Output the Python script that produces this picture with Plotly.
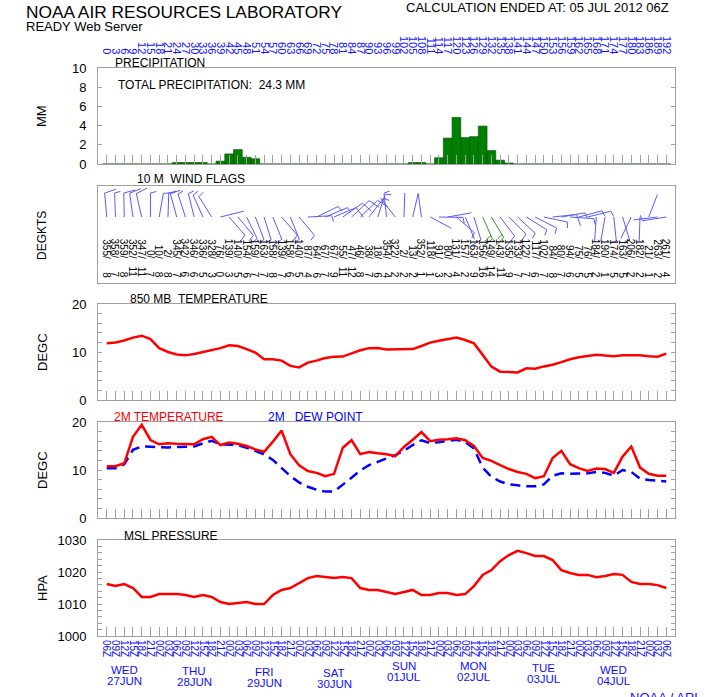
import math
import plotly.graph_objects as go

OFF = 0
FW, FH = 708, 697
FONT = "Liberation Sans, Arial, Helvetica, sans-serif"
FRAME = "#a0a0a0"
BLUE = "#1010ff"

# ---------------- data ----------------
hours = list(range(0, 193, 3))
utc_labels = ["%02dZ" % ((6 + h) % 24) for h in hours]
hour_labels = [str(h) for h in hours]

precip_mm = [0, 0, 0, 0, 0, 0, 0, 0,
             0.15, 0.15, 0.15, 0.15, 0, 0.3, 1.05, 1.5, 0.7, 0.55,
             0, 0, 0, 0, 0, 0, 0, 0, 0, 0, 0, 0, 0, 0, 0, 0, 0,
             0.15, 0.15, 0, 0.65, 2.7, 4.85, 2.75, 2.85, 3.95, 1.4, 0.4, 0.1,
             0, 0, 0, 0, 0, 0, 0, 0, 0, 0, 0, 0, 0, 0, 0, 0, 0, 0]
total_precip = "24.3"

t850 = [11.8, 12.0, 12.4, 13.0, 13.4, 12.7, 10.8, 10.0, 9.5, 9.3,
        9.6, 10.0, 10.5, 10.8, 11.4, 11.25, 10.6, 9.9, 8.5, 8.5,
        8.2, 7.1, 6.8, 7.8, 8.2, 8.75, 9.0, 9.05, 9.7, 10.35,
        10.8, 10.85, 10.5, 10.5, 10.5, 10.6, 11.25, 11.95, 12.35, 12.7,
        13.0, 12.5, 11.8, 9.4, 6.95, 5.9, 5.8, 5.75, 6.6, 6.5,
        7.0, 7.35, 7.9, 8.5, 8.9, 9.1, 9.45, 9.25, 9.1, 9.3,
        9.3, 9.3, 9.1, 9.0, 9.65]

t2m = [10.8, 10.8, 11.4, 16.9, 19.4, 16.25, 15.35, 15.55, 15.45, 15.35,
       15.35, 16.4, 16.9, 15.2, 15.7, 15.45, 15.0, 14.3, 13.8, 15.9,
       18.2, 13.3, 11.0, 9.8, 9.4, 8.7, 9.2, 14.65, 16.2, 13.3,
       13.75, 13.5, 13.3, 12.9, 14.8, 16.3, 17.9, 16.0, 16.3, 16.4,
       16.6, 16.2, 15.0, 12.5, 11.9, 11.0, 10.2, 9.6, 9.2, 8.3,
       8.7, 12.5, 14.0, 11.2, 10.4, 9.8, 10.3, 10.2, 9.4, 12.8,
       14.9, 10.5, 9.2, 8.8, 8.8]

dew2m = [10.35, 10.35, 11.2, 14.2, 14.9, 14.8, 14.65, 14.7, 14.8, 14.85,
         14.9, 15.55, 16.1, 15.35, 15.35, 15.2, 14.65, 13.95, 13.25, 12.1,
         10.35, 8.75, 7.4, 6.5, 5.9, 5.5, 5.5, 6.9, 8.4, 9.9,
         11.0, 11.7, 12.4, 13.1, 14.0, 15.2, 16.2, 15.6, 15.8, 16.0,
         16.3, 15.8, 14.5, 10.5, 8.6, 7.6, 7.0, 6.8, 6.6, 6.6,
         7.0, 8.8, 9.3, 9.2, 9.2, 9.3, 9.6, 9.4, 8.8, 10.0,
         9.6, 8.2, 7.9, 7.7, 7.6]

mslp = [1016.25, 1015.6, 1016.25, 1015.0, 1012.2, 1012.2, 1013.1, 1013.1, 1013.1, 1012.8,
        1012.2, 1012.8, 1012.2, 1010.6, 1010.0, 1010.3, 1010.6, 1010.0, 1010.0, 1012.8,
        1014.4, 1015.0, 1016.6, 1018.1, 1018.75, 1018.4, 1018.1, 1018.4, 1018.1, 1015.0,
        1014.4, 1014.4, 1013.75, 1013.1, 1013.75, 1014.4, 1012.8, 1012.8, 1013.4, 1013.4,
        1012.8, 1013.1, 1015.6, 1019.1, 1020.6, 1023.4, 1025.3, 1026.6, 1025.9, 1025.0,
        1025.0, 1023.75, 1020.6, 1019.7, 1019.1, 1019.1, 1018.4, 1018.75, 1019.4, 1019.1,
        1016.9, 1016.25, 1016.25, 1015.9, 1015.0]

wind_dir = [355, 358, 359, 352, 347, 0, 10, 2, 345, 342, 346, 336, 328, 76, 139, 140, 154,
            159, 163, 158, 139, 158, 140, 87, 64, 67, 67, 55, 47, 46, 38, 18, 354, 322,
            2, 13, 352, 118, 91, 80, 131, 157, 163, 156, 149, 143, 135, 133, 122, 117,
            102, 84, 80, 94, 75, 76, 184, 190, 174, 163, 206, 182, 21, 263, 261]
wind_spd = [8, 7, 8, 11, 11, 7, 8, 8, 7, 6, 6, 5, 3, 0, 3, 5, 6,
            7, 7, 8, 7, 6, 5, 4, 6, 7, 9, 11, 12, 8, 7, 6, 4, 2,
            2, 2, 1, 1, 3, 2, 4, 2, 9, 16, 14, 11, 9, 7, 7, 6,
            7, 8, 7, 6, 5, 5, 2, 1, 5, 5, 2, 2, 1, 2, 4]

day_names = ["WED", "THU", "FRI", "SAT", "SUN", "MON", "TUE", "WED"]
day_dates = ["27JUN", "28JUN", "29JUN", "30JUN", "01JUL", "02JUL", "03JUL", "04JUL"]
day_hours = [6, 30, 54, 78, 102, 126, 150, 174]

# ---------------- layout helpers (window pixels -> paper fractions) ----------------
def PX(x):
    return (x - OFF) / FW


def PY(y):
    return 1 - (y - OFF) / FH


XR = [-3, 195]
XD = [PX(98), PX(675)]
panels = [(68, 164), (186, 283), (304, 400), (422, 518), (540, 636)]


def ydom(p):
    t, b = p
    return [PY(b), PY(t)]


def txt(text, x, y, size=12, color="black", xanchor="left", yanchor="middle", angle=0):
    return dict(text=text, x=PX(x), y=PY(y), xref="paper", yref="paper",
                showarrow=False, font=dict(size=size, color=color, family=FONT),
                xanchor=xanchor, yanchor=yanchor, textangle=angle)


fig = go.Figure()

# precipitation bars
fig.add_trace(go.Bar(x=hours, y=precip_mm, width=3, xaxis="x", yaxis="y",
                     marker=dict(color="#008000", line=dict(color="#004d00", width=0.6)),
                     showlegend=False, hoverinfo="skip"))
# dummy for top hour axis
fig.add_trace(go.Scatter(x=[0], y=[None], xaxis="x6", yaxis="y", mode="markers",
                         showlegend=False, hoverinfo="skip"))

# wind barbs (drawn in pixel-sized units on the wind panel)
PXH = (675 - 98) / (XR[1] - XR[0])
BASE, STAFF, FULL, HALF, SPC = 66, 24, 12, 6, 3.5
seg_blue_x, seg_blue_y, seg_green_x, seg_green_y = [], [], [], []
for h, d, s in zip(hours, wind_dir, wind_spd):
    r = math.radians(d)
    ux, uy = math.sin(r), math.cos(r)
    qx, qy = math.cos(r), -math.sin(r)
    segs = [((0, 0), (ux * STAFF, uy * STAFF))]
    n = int(round(s / 5.0))
    nfull, nhalf = divmod(n, 2)
    pos = 0.0
    for i in range(nfull + nhalf):
        L = FULL if i < nfull else HALF
        sx, sy = ux * (STAFF - pos), uy * (STAFF - pos)
        ex = sx + L * (0.97 * qx + 0.24 * ux)
        ey = sy + L * (0.97 * qy + 0.24 * uy)
        segs.append(((sx, sy), (ex, ey)))
        pos += SPC
    tx, ty = (seg_green_x, seg_green_y) if s >= 14 else (seg_blue_x, seg_blue_y)
    for (a, b) in segs:
        tx += [h + a[0] / PXH, h + b[0] / PXH, None]
        ty += [BASE + a[1], BASE + b[1], None]

fig.add_trace(go.Scatter(x=seg_blue_x, y=seg_blue_y, xaxis="x2", yaxis="y2", mode="lines",
                         line=dict(color="#5a5aff", width=1), showlegend=False, hoverinfo="skip"))
fig.add_trace(go.Scatter(x=seg_green_x, y=seg_green_y, xaxis="x2", yaxis="y2", mode="lines",
                         line=dict(color="#3a8f3a", width=1), showlegend=False, hoverinfo="skip"))

# 850 mb temperature
fig.add_trace(go.Scatter(x=hours, y=t850, xaxis="x3", yaxis="y3", mode="lines",
                         line=dict(color="#ff0000", width=2.5), showlegend=False, hoverinfo="skip"))
# 2m dew point and temperature
fig.add_trace(go.Scatter(x=hours, y=dew2m, xaxis="x4", yaxis="y4", mode="lines",
                         line=dict(color="#0000ff", width=2.5, dash="10px,6px"),
                         showlegend=False, hoverinfo="skip"))
fig.add_trace(go.Scatter(x=hours, y=t2m, xaxis="x4", yaxis="y4", mode="lines",
                         line=dict(color="#ff0000", width=2.5), showlegend=False, hoverinfo="skip"))
# MSL pressure
fig.add_trace(go.Scatter(x=hours, y=mslp, xaxis="x5", yaxis="y5", mode="lines",
                         line=dict(color="#ff0000", width=2.5), showlegend=False, hoverinfo="skip"))

xbase = dict(range=XR, domain=XD, showline=True, mirror=True, linecolor=FRAME, linewidth=1,
             showgrid=False, zeroline=False, showticklabels=False, ticks="inside",
             tickmode="array", tickvals=hours, ticklen=9, tickcolor=FRAME, tickwidth=1,
             automargin=False)
ybase = dict(showline=True, mirror="ticks", linecolor=FRAME, linewidth=1, showgrid=False,
             zeroline=False, ticks="inside", ticklen=4, tickcolor=FRAME,
             tickfont=dict(size=13, color="black", family=FONT), ticklabelstandoff=8,
             automargin=False)

layout = dict(
    width=FW, height=FH, margin=dict(l=0, r=0, t=0, b=0, autoexpand=False),
    paper_bgcolor="white", plot_bgcolor="white", showlegend=False,
    font=dict(family=FONT),
    xaxis=dict(xbase, anchor="y"),
    xaxis2=dict(xbase, anchor="y2", ticks=""),
    xaxis3=dict(xbase, anchor="y3"),
    xaxis4=dict(xbase, anchor="y4"),
    xaxis5=dict(xbase, anchor="y5", showticklabels=True, ticktext=utc_labels, tickangle=90,
                tickfont=dict(size=10, color=BLUE, family=FONT), ticklabelstandoff=1),
    xaxis6=dict(range=XR, overlaying="x", anchor="free", position=PY(56), side="top",
                showline=False, showgrid=False, zeroline=False, ticks="", automargin=False,
                tickmode="array", tickvals=hours, ticktext=hour_labels, tickangle=90,
                tickfont=dict(size=11, color=BLUE, family=FONT)),
    yaxis=dict(ybase, domain=ydom(panels[0]), anchor="x", range=[0, 10], dtick=2),
    yaxis2=dict(ybase, domain=ydom(panels[1]), anchor="x2", range=[0, 97],
                showticklabels=False, ticks="", mirror=True),
    yaxis3=dict(ybase, domain=ydom(panels[2]), anchor="x3", range=[0, 20], dtick=10,
                minor=dict(dtick=2, ticks="inside", ticklen=4, tickcolor=FRAME)),
    yaxis4=dict(ybase, domain=ydom(panels[3]), anchor="x4", range=[0, 20], dtick=10,
                minor=dict(dtick=2, ticks="inside", ticklen=4, tickcolor=FRAME)),
    yaxis5=dict(ybase, domain=ydom(panels[4]), anchor="x5", range=[1000, 1030], dtick=10,
                minor=dict(dtick=2, ticks="inside", ticklen=4, tickcolor=FRAME)),
)

NB = "\u00a0"
ann = [
    txt("NOAA AIR RESOURCES LABORATORY", 24, 12, size=17.3),
    txt("READY Web Server", 24, 27, size=13),
    txt("CALCULATION ENDED AT: 05 JUL 2012 06Z", 404, 7.5, size=13),
    txt("PRECIPITATION", 113, 62.5),
    txt("TOTAL PRECIPITATION:" + NB * 2 + total_precip + " MM", 116, 85),
    txt("10 M" + NB * 2 + "WIND FLAGS", 135, 179),
    txt("850 MB" + NB * 2 + "TEMPERATURE", 128, 298.5),
    txt("2M TEMPERATURE", 112, 416.5, color="#ff0000"),
    txt("2M" + NB * 3 + "DEW POINT", 266, 416.5, color="#0000ff"),
    txt("MSL PRESSURE", 122, 535.5),
    txt("MM", 42, 116, size=13, xanchor="center", angle=-90),
    txt("DEGKTS", 42, 236, size=12, xanchor="center", angle=-90),
    txt("DEGC", 42, 352, size=13, xanchor="center", angle=-90),
    txt("DEGC", 42, 470, size=13, xanchor="center", angle=-90),
    txt("HPA", 42, 588, size=13, xanchor="center", angle=-90),
    txt("NOAA / ARL", 628, 688, size=13, color=BLUE, yanchor="top"),
]

# wind direction / speed labels
for h, d, s in zip(hours, wind_dir, wind_spd):
    ann.append(dict(text="%d/" % d, x=h, y=PY(261), xref="x2", yref="paper",
                    showarrow=False, textangle=90, xanchor="center", yanchor="bottom",
                    font=dict(size=10, color="black", family=FONT)))
    ann.append(dict(text="%d" % s, x=h, y=PY(280), xref="x2", yref="paper",
                    showarrow=False, textangle=90, xanchor="center", yanchor="bottom",
                    font=dict(size=10, color="black", family=FONT)))

# day labels
name_y = [670, 671, 672, 673, 665.5, 666, 667.5, 670]
date_y = [681, 681.5, 683, 684, 676.5, 677, 678.5, 681]
for hd, nm, dt, ny, dy in zip(day_hours, day_names, day_dates, name_y, date_y):
    ann.append(dict(text=nm, x=hd, y=PY(ny), xref="x5", yref="paper", showarrow=False,
                    xanchor="center", yanchor="middle",
                    font=dict(size=11.5, color=BLUE, family=FONT)))
    ann.append(dict(text=dt, x=hd, y=PY(dy), xref="x5", yref="paper", showarrow=False,
                    xanchor="center", yanchor="middle",
                    font=dict(size=11.5, color=BLUE, family=FONT)))

layout["annotations"] = ann
fig.update_layout(**layout)
# remove the default 8px page margin so the figure fills the window exactly
fig.write_html("out.html", config={"displayModeBar": False},
               post_script="document.body.style.margin='0px';")
